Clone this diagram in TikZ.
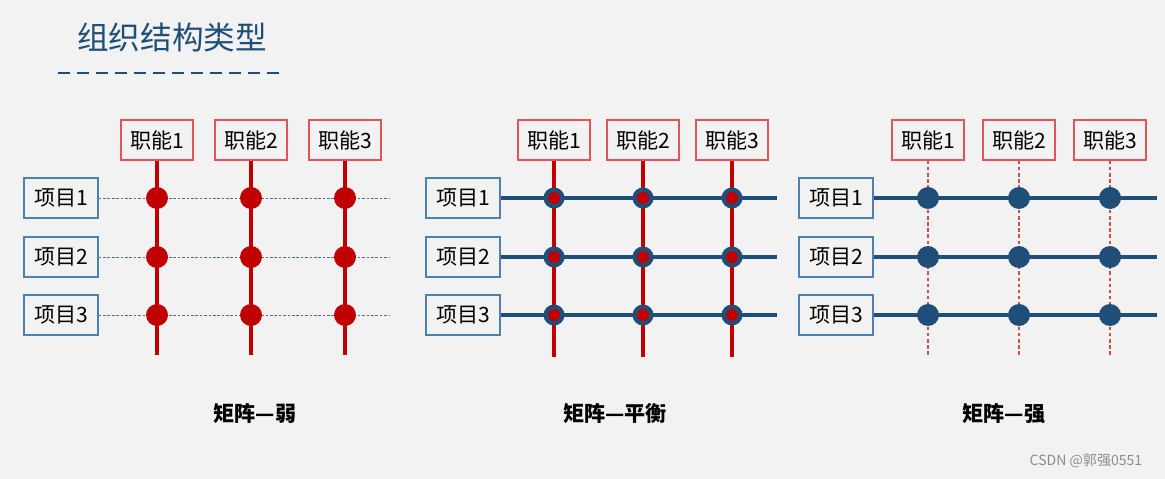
\documentclass[tikz,border=0pt]{standalone}
\usepackage{fontspec}
\setmainfont{Noto Sans CJK SC}
\definecolor{bgray}{HTML}{F2F2F2}
\definecolor{mred}{HTML}{C00000}
\definecolor{mblue}{HTML}{1F4E79}
\definecolor{boxred}{HTML}{E05555}
\definecolor{boxblue}{HTML}{4F81B0}
\begin{document}
\begin{tikzpicture}[
    x=0.02cm, y=-0.02cm,
    func/.style={rectangle, draw=boxred, line width=0.8pt, fill=bgray, minimum width=1.44cm, minimum height=0.8cm, inner sep=0pt, font=\fontsize{12}{14}\selectfont},
    proj/.style={rectangle, draw=boxblue, line width=0.8pt, fill=bgray, minimum width=1.48cm, minimum height=0.8cm, inner sep=0pt, font=\fontsize{12}{14}\selectfont},
    caption/.style={font=\fontsize{12}{14}\selectfont\bfseries},
    redline/.style={draw=mred, line width=2.3pt},
    reddash/.style={draw=mred!70, line width=0.6pt, dash pattern=on 2pt off 1.5pt},
    bluedot/.style={draw=mblue!80, line width=0.5pt, dash pattern=on 1.5pt off 1pt},
    blueline/.style={draw=mblue, line width=2.3pt}
]
    \fill[bgray] (0,0) rectangle (1165,479);
    \useasboundingbox (0,0) rectangle (1165,479);

    % title
    \node[text=mblue, font=\fontsize{18}{20}\selectfont] (title) at (172,37) {组织结构类型};
    \draw[mblue, line width=1.7pt, dash pattern=on 6.8pt off 4pt] (58,73) coordinate (tl) -- (279,73) coordinate (tr);

    % weak matrix
    \node[func] (w-f1) at (157,140) {职能1};
    \node[func] (w-f2) at (251,140) {职能2};
    \node[func] (w-f3) at (345,140) {职能3};
    \node[proj] (w-p1) at (61,198) {项目1};
    \node[proj] (w-p2) at (61,257) {项目2};
    \node[proj] (w-p3) at (61,315) {项目3};
    \coordinate (w-end) at (390,355);
    \foreach \j in {1,2,3}
        \draw[bluedot] (w-p\j.east) -- (w-p\j.east -| w-end);
    \foreach \i in {1,2,3} {
        \draw[redline] (w-f\i.south) -- (w-f\i.south |- w-end);
        \foreach \j in {1,2,3}
            \fill[mred] (w-f\i.south |- w-p\j.east) circle (11);
    }
    \node[caption] (w-cap) at (255,414) {矩阵—弱};

    % balanced matrix
    \node[func] (b-f1) at (554,140) {职能1};
    \node[func] (b-f2) at (643,140) {职能2};
    \node[func] (b-f3) at (732,140) {职能3};
    \node[proj] (b-p1) at (463,198) {项目1};
    \node[proj] (b-p2) at (463,257) {项目2};
    \node[proj] (b-p3) at (463,315) {项目3};
    \coordinate (b-end) at (777,357);
    \foreach \i in {1,2,3}
        \draw[redline] (b-f\i.south) -- (b-f\i.south |- b-end);
    \foreach \j in {1,2,3}
        \draw[blueline] (b-p\j.east) -- (b-p\j.east -| b-end);
    \foreach \i in {1,2,3}
        \foreach \j in {1,2,3} {
            \fill[mblue] (b-f\i.south |- b-p\j.east) circle (10.5);
            \fill[mred] (b-f\i.south |- b-p\j.east) circle (6);
        }
    \node[caption] (b-cap) at (615,414) {矩阵—平衡};

    % strong matrix
    \node[func] (s-f1) at (928,140) {职能1};
    \node[func] (s-f2) at (1019,140) {职能2};
    \node[func] (s-f3) at (1110,140) {职能3};
    \node[proj] (s-p1) at (836,198) {项目1};
    \node[proj] (s-p2) at (836,257) {项目2};
    \node[proj] (s-p3) at (836,315) {项目3};
    \coordinate (s-end) at (1157,355);
    \foreach \i in {1,2,3}
        \draw[reddash] (s-f\i.south) -- (s-f\i.south |- s-end);
    \foreach \j in {1,2,3}
        \draw[blueline] (s-p\j.east) -- (s-p\j.east -| s-end);
    \foreach \i in {1,2,3}
        \foreach \j in {1,2,3}
            \fill[mblue] (s-f\i.south |- s-p\j.east) circle (11);
    \node[caption] (s-cap) at (1004,414) {矩阵—强};

    \node[text=black!45, font=\fontsize{8}{10}\selectfont] (mark) at (1086,461) {CSDN @郭强0551};
\end{tikzpicture}
\end{document}
